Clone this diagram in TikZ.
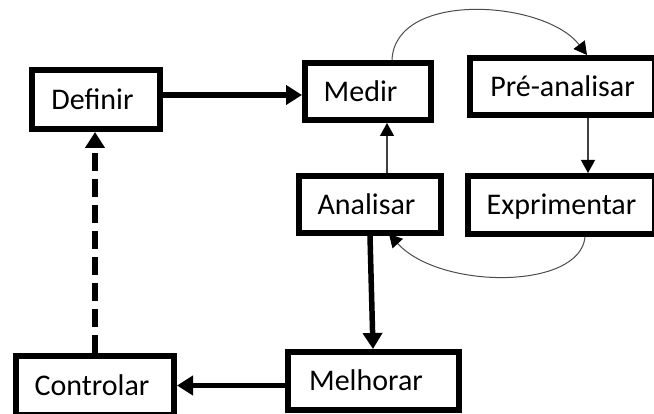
\documentclass[tikz,border=0pt]{standalone}
\usepackage{fontspec}
\setmainfont{Carlito}
\usetikzlibrary{arrows.meta}
\begin{document}
\begin{tikzpicture}[x=1pt,y=-1pt,
  stage/.style={draw, line width=6pt, rectangle, inner sep=0pt,
    text height=20pt, text depth=0pt, font=\fontsize{30}{34}\selectfont},
  boldarrow/.style={line width=5.5pt, -{Triangle[length=16pt,width=19pt]}},
  finearrow/.style={line width=1.2pt, draw=black!75,
    -{Triangle[length=13pt,width=14pt,color=black,fill=black]}},
  loop/.style={line width=1pt, draw=black!70,
    -{Triangle[length=13pt,width=14pt,color=black,fill=black]}}]
\useasboundingbox (0,0) rectangle (654,414);
\fill[white] (0,0) rectangle (654,414);
\clip (0,0) rectangle (654,414);

% process stages
\node[stage, minimum width=128pt, minimum height=59pt] (def) at (96,99.5) {Definir\hspace*{7pt}};
\node[stage, minimum width=126pt, minimum height=57pt] (med) at (368,91.5) {Medir\hspace*{15pt}};
\node[stage, minimum width=185pt, minimum height=57pt] (pre) at (562.5,86.5) {Pré-analisar};
\node[stage, minimum width=187pt, minimum height=58pt] (exp) at (561.5,205) {Exprimentar};
\node[stage, minimum width=142pt, minimum height=57pt] (ana) at (370,204.5) {Analisar\hspace*{7pt}};
\node[stage, minimum width=171pt, minimum height=58pt] (mel) at (373.5,381) {Melhorar\hspace*{15pt}};
\node[stage, minimum width=158pt, minimum height=59pt] (con) at (95,385.5) {Controlar\hspace*{6pt}};

% main flow
\draw[boldarrow] ([yshift=4.5pt]def.east) -- ([yshift=4.5pt]def.east -| med.west);
\draw[boldarrow] (ana.south) -- ([xshift=-0.5pt]mel.north);
\draw[boldarrow] (mel.west |- con.east) -- (con.east);
\draw[boldarrow, dash pattern=on 18pt off 8pt] (con.north) -- (con.north |- def.south);

% inner loop
\draw[finearrow] ([xshift=17pt]ana.north) -- ([xshift=17pt]ana.north |- med.south);
\draw[finearrow] ([xshift=25.5pt]pre.south) -- ([xshift=25.5pt]pre.south |- exp.north);
\coordinate (m1) at ([xshift=24pt]med.north);
\coordinate (p1) at ([xshift=24.5pt]pre.north);
\draw[loop] (m1) .. controls (395,-10) and (545,0) .. (p1);
\coordinate (e1) at ([xshift=23.5pt]exp.south);
\coordinate (a1) at ([xshift=19pt,yshift=2pt]ana.south);
\draw[loop] (e1) .. controls (580,290) and (440,290) .. (a1);
\end{tikzpicture}
\end{document}
